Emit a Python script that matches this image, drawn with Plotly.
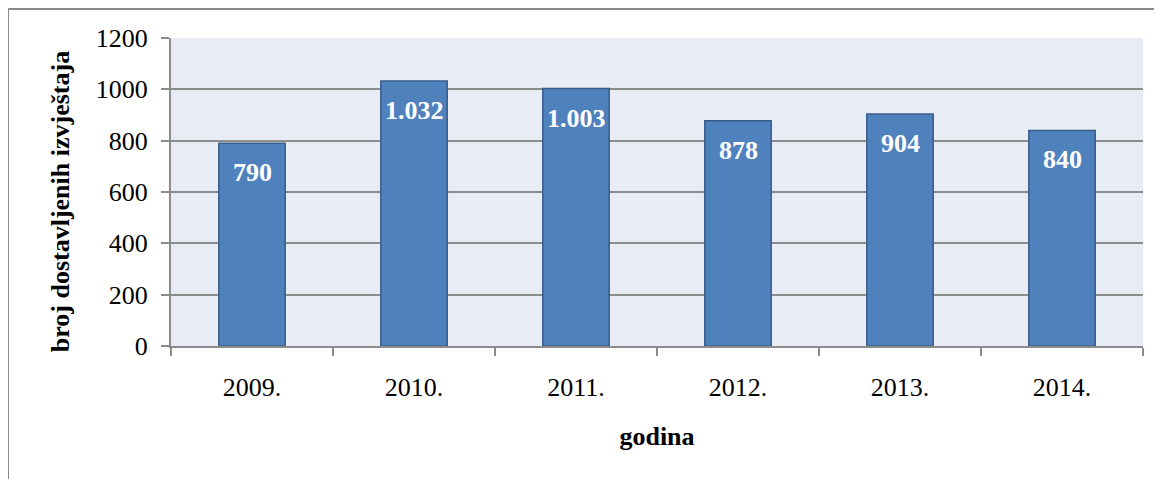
import plotly.graph_objects as go

years = ["2009.", "2010.", "2011.", "2012.", "2013.", "2014."]
reports = [790, 1032, 1003, 878, 904, 840]
report_labels = ["790", "1.032", "1.003", "878", "904", "840"]

FONT = "Liberation Serif, Times New Roman, serif"
GRID = "#8C8C8C"

fig = go.Figure()
fig.add_trace(go.Bar(
    x=years, y=reports, width=0.41,
    marker=dict(color="#4F81BD", line=dict(color="#385D8A", width=1.5)),
    hoverinfo="x+y",
))

# value labels inside the top of each bar (category index, since "2009." reads as a number)
for i, (val, lab) in enumerate(zip(reports, report_labels)):
    fig.add_annotation(x=i, y=val, text="<b>%s</b>" % lab, showarrow=False,
                       yanchor="top", yshift=-13,
                       font=dict(family=FONT, size=26, color="white"))

# y axis title, sits a bit below the plot centre like the original
fig.add_annotation(xref="paper", yref="paper", x=-0.1142, y=0.47,
                   text="<b>broj dostavljenih izvještaja</b>", textangle=-90,
                   showarrow=False, xanchor="center", yanchor="middle",
                   font=dict(family=FONT, size=26, color="black"))

# outer chart frame (left and top edges visible)
fig.add_shape(type="line", xref="paper", yref="paper",
              x0=-0.1677, x1=-0.1677, y0=1.094, y1=-0.45,
              line=dict(color="#8A8A8A", width=2))
fig.add_shape(type="line", xref="paper", yref="paper",
              x0=-0.1677, x1=1.03, y0=1.094, y1=1.094,
              line=dict(color="#8A8A8A", width=2))

fig.update_layout(
    width=1154, height=471,
    margin=dict(l=163, r=19, t=30, b=133, autoexpand=False),
    plot_bgcolor="#E8ECF4", paper_bgcolor="white",
    showlegend=False,
    bargap=0.59,
    font=dict(family=FONT, size=26, color="black"),
)
fig.update_yaxes(
    range=[0, 1200], dtick=200, automargin=False,
    showgrid=True, gridcolor=GRID, gridwidth=2,
    showline=True, linecolor=GRID, linewidth=2,
    ticks="outside", ticklen=8, tickcolor=GRID, tickwidth=2,
    ticklabelstandoff=8,
    tickfont=dict(family=FONT, size=26),
    zeroline=False,
)
fig.update_xaxes(
    type="category", automargin=False, tickangle=0,
    range=[-0.5, len(years) - 0.5],
    showline=True, linecolor=GRID, linewidth=2,
    ticks="outside", ticklen=8, tickcolor=GRID, tickwidth=2,
    tickson="boundaries",
    ticklabelstandoff=17,
    tickfont=dict(family=FONT, size=26),
    title=dict(text="<b>godina</b>", standoff=26,
               font=dict(family=FONT, size=26)),
)

fig.write_html("out.html")
